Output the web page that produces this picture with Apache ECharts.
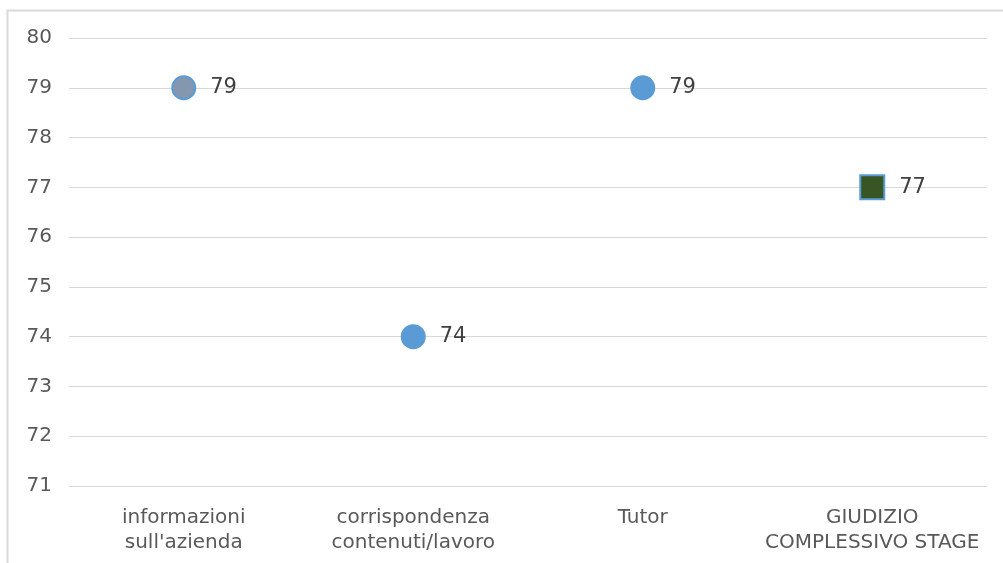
<!DOCTYPE html>
<html>
<head>
<meta charset="utf-8">
<script src="https://cdn.jsdelivr.net/npm/echarts@6/dist/echarts.min.js"></script>
<style>
html,body{margin:0;padding:0;background:#fff;}
#c{width:1003px;height:563px;}
</style>
</head>
<body>
<div id="c"></div>
<script>
var categories = ["informazioni\nsull'azienda", "corrispondenza\ncontenuti/lavoro", "Tutor", "GIUDIZIO\nCOMPLESSIVO STAGE"];
var values = [79, 74, 79, 77];
var yMin = 71, yMax = 80, yInterval = 1;

var styles = [
  {symbol: 'circle', size: 23, fill: '#8497b0'},
  {symbol: 'circle', size: 23, fill: '#5b9bd5'},
  {symbol: 'circle', size: 23, fill: '#5b9bd5'},
  {symbol: 'rect', size: 24, fill: '#375623'}
];

var data = values.map(function (v, i) {
  return {
    value: v,
    symbol: styles[i].symbol,
    symbolSize: styles[i].size,
    itemStyle: {color: styles[i].fill, borderColor: '#5b9bd5', borderWidth: 2, opacity: 1}
  };
});

var chart = echarts.init(document.getElementById('c'), null, {renderer: 'canvas'});
chart.setOption({
  animation: false,
  graphic: [{
    type: 'rect', left: 5, top: 8, shape: {x: 0, y: 0, width: 1010, height: 570},
    style: {fill: 'none', stroke: '#d9d9d9', lineWidth: 2}, silent: true
  }],
  grid: {left: 69, right: 16, top: 38, bottom: 77},
  xAxis: {
    type: 'category',
    data: categories,
    boundaryGap: true,
    axisLine: {show: false},
    axisTick: {show: false},
    axisLabel: {color: '#595959', fontFamily: 'DejaVu Sans', fontSize: 20, lineHeight: 25, margin: 19, interval: 0}
  },
  yAxis: {
    type: 'value',
    min: yMin, max: yMax, interval: yInterval,
    axisLine: {show: false},
    axisTick: {show: false},
    splitLine: {lineStyle: {color: '#d9d9d9', width: 1}},
    axisLabel: {color: '#595959', fontFamily: 'DejaVu Sans', fontSize: 20, margin: 17}
  },
  series: [{
    type: 'scatter',
    data: data,
    label: {show: true, position: 'right', distance: 14, color: '#404040', fontFamily: 'DejaVu Sans', fontSize: 21}
  }]
});
</script>
</body>
</html>
